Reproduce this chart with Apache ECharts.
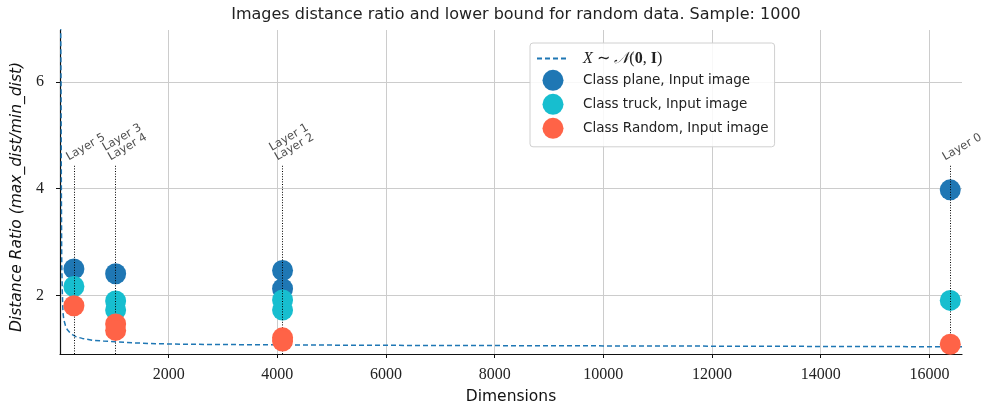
<!DOCTYPE html>
<html><head><meta charset="utf-8">
<script src="https://cdn.jsdelivr.net/npm/echarts@6.0.0/dist/echarts.min.js"></script>
<style>html,body{margin:0;padding:0;background:#fff}#c{width:987px;height:408px}</style>
</head><body><div id="c"></div>
<script>
// ---- data ----
const titleText = 'Images distance ratio and lower bound for random data. Sample: 1000';
const xTicks = [2000, 4000, 6000, 8000, 10000, 12000, 14000, 16000];
const yTicks = [2, 4, 6];
const xRange = [0, 16600];
const yRange = [0.908, 6.97];

const curveName = 'X ~ N(0, I)';
// lower bound curve (dimension, ratio)
const curveDims   = [2, 8, 14, 19, 25, 32, 44, 55, 70, 100, 136, 180, 228, 300, 412, 596, 800, 1024, 1400, 1761, 2368, 3000, 4096, 6000, 8000, 10000, 12000, 14000, 16000, 16600];
const curveValues = [12, 8.5, 6.8, 6.0, 4.0, 2.6, 2.0, 1.68, 1.55, 1.44, 1.36, 1.31, 1.27, 1.23, 1.20, 1.165, 1.15, 1.135, 1.115, 1.10, 1.09, 1.085, 1.078, 1.07, 1.065, 1.06, 1.055, 1.05, 1.045, 1.044];

const planeName = 'Class plane, Input image';
const planeDims   = [256, 1024, 4096, 4096, 16384];
const planeValues = [2.50, 2.41, 2.47, 2.13, 3.98];

const truckName = 'Class truck, Input image';
const truckDims   = [256, 1024, 1024, 4096, 4096, 16384];
const truckValues = [2.17, 1.90, 1.73, 1.92, 1.73, 1.91];

const randomName = 'Class Random, Input image';
const randomDims   = [256, 1024, 1024, 4096, 4096, 16384];
const randomValues = [1.81, 1.47, 1.35, 1.21, 1.15, 1.09];

const layerDims  = [256, 1024, 4096, 16384];
const layerNames = ['Layer 5', 'Layer 3\nLayer 4', 'Layer 1\nLayer 2', 'Layer 0'];
const layerTop   = 4.45;

// ---- build ----
const zip = (a, b) => a.map((v, i) => [v, b[i]]);
const chart = echarts.init(document.getElementById('c'), null, {renderer: 'canvas'});
const sans = 'DejaVu Sans';
const serif = 'Liberation Serif';

chart.setOption({
  animation: false,
  backgroundColor: '#fff',
  title: {
    text: titleText, left: 511, top: 2, textAlign: 'center',
    textStyle: {fontFamily: sans, fontWeight: 'normal', fontSize: 16, color: '#222'}
  },
  grid: {left: 60, right: 25, top: 30, bottom: 54, containLabel: false, outerBoundsMode: 'none'},
  legend: {
    orient: 'vertical', left: 530, top: 43,
    padding: [7, 6, 8, 6],
    itemWidth: 32, itemHeight: 21, itemGap: 3,
    borderColor: '#d0d0d0', borderWidth: 1, borderRadius: 3,
    backgroundColor: 'rgba(255,255,255,0.85)',
    data: [
      {name: curveName, itemStyle: {opacity: 0}},
      {name: planeName, icon: 'circle'},
      {name: truckName, icon: 'circle'},
      {name: randomName, icon: 'circle'}
    ],
    formatter: function (name) {
      if (name === curveName) return '{i|X} {n|∼} {c|𝒩}{n|(}{b|0}{n|, }{b|I}{n|)}';
      return name;
    },
    textStyle: {
      fontFamily: sans, fontSize: 13.5, color: '#222', padding: [0, 0, 0, 9],
      rich: {
        i: {fontFamily: serif, fontStyle: 'italic', fontSize: 16, color: '#222'},
        n: {fontFamily: serif, fontSize: 16, color: '#222'},
        c: {fontFamily: serif, fontStyle: 'italic', fontSize: 16, color: '#222'},
        b: {fontFamily: serif, fontWeight: 'bold', fontSize: 16, color: '#222'}
      }
    }
  },
  xAxis: {
    type: 'value', min: xRange[0], max: xRange[1],
    name: 'Dimensions', nameLocation: 'middle', nameGap: 35,
    nameTextStyle: {fontFamily: sans, fontSize: 15.5, color: '#111'},
    axisLine: {show: true, lineStyle: {color: '#111', width: 1.2}},
    axisTick: {show: true, customValues: xTicks, length: 4, lineStyle: {color: '#111'}},
    axisLabel: {customValues: xTicks, formatter: v => String(v), fontFamily: serif, fontSize: 16, color: '#222', margin: 13},
    splitLine: {show: true, lineStyle: {color: '#cccccc', width: 1}}
  },
  yAxis: {
    type: 'value', min: yRange[0], max: yRange[1],
    name: 'Distance Ratio (max_dist/min_dist)', nameLocation: 'middle', nameGap: 27,
    nameTextStyle: {fontFamily: sans, fontStyle: 'italic', fontSize: 15.5, color: '#111', padding: [0, 10, 0, 0]},
    axisLine: {show: true, lineStyle: {color: '#111', width: 1.2}},
    axisTick: {show: true, customValues: yTicks, length: 4, lineStyle: {color: '#111'}},
    axisLabel: {customValues: yTicks, formatter: v => String(v), fontFamily: serif, fontSize: 16, color: '#222', margin: 16},
    splitLine: {show: true, lineStyle: {color: '#cccccc', width: 1}}
  },
  series: [
    {
      name: 'layers', type: 'scatter', silent: true, z: 1,
      symbolSize: 0,
      data: layerDims.map((d, i) => ({value: [d, layerTop], name: layerNames[i]})),
      label: {
        show: true, formatter: p => p.name,
        position: [-4, -2], align: 'left', verticalAlign: 'bottom', rotate: 30,
        fontFamily: sans, fontSize: 11.5, color: '#222', lineHeight: 11
      },
      markLine: {
        silent: true, symbol: 'none', animation: false,
        label: {show: false},
        lineStyle: {color: '#000', width: 1, type: [1, 1.6]},
        data: layerDims.map(d => [{coord: [d, yRange[0]]}, {coord: [d, layerTop]}])
      }
    },
    {
      name: curveName, type: 'line', z: 2, clip: true,
      data: zip(curveDims, curveValues), showSymbol: false, symbol: 'none', smooth: false,
      lineStyle: {color: '#1f77b4', width: 1.5, type: [5, 3]},
      itemStyle: {color: '#1f77b4'}
    },
    {
      name: planeName, type: 'scatter', z: 3, symbolSize: 21,
      data: zip(planeDims, planeValues), itemStyle: {color: '#1f77b4', opacity: 1}
    },
    {
      name: truckName, type: 'scatter', z: 4, symbolSize: 21,
      data: zip(truckDims, truckValues), itemStyle: {color: '#17becf', opacity: 1}
    },
    {
      name: randomName, type: 'scatter', z: 5, symbolSize: 21,
      data: zip(randomDims, randomValues), itemStyle: {color: '#ff6347', opacity: 1}
    }
  ]
});
</script></body></html>
